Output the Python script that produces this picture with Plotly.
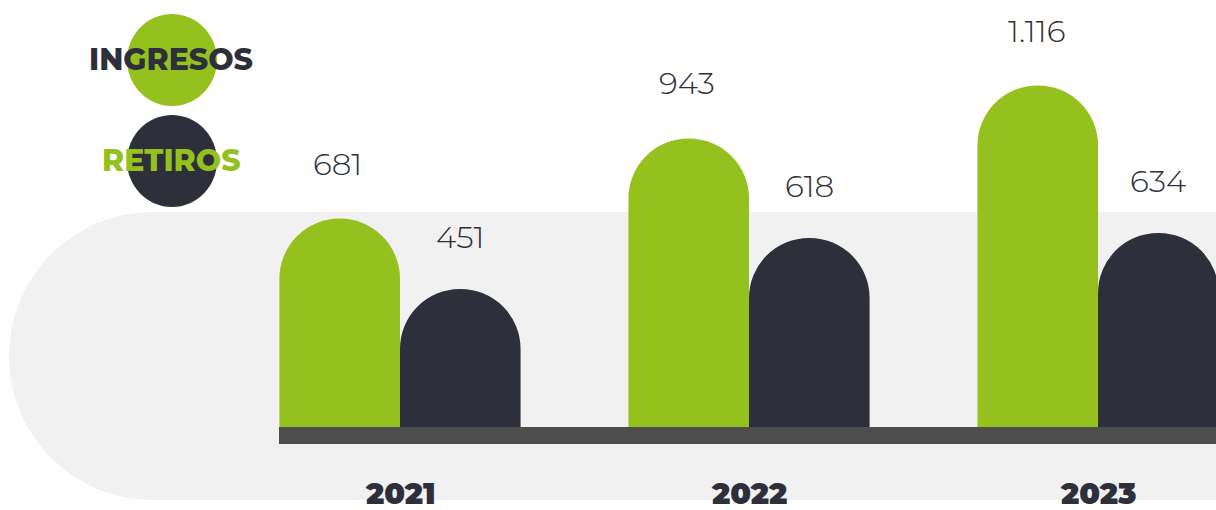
import plotly.graph_objects as go

years = ["2021", "2022", "2023"]
ingresos = [681, 943, 1116]
retiros = [451, 618, 634]
series_names = ["INGRESOS", "RETIROS"]

GREEN = "#95c11f"
DARK = "#2d2f3b"
BG = "#f1f1f1"
BASE = "#4d4d4d"

W, H = 1216, 510
# vertical scale: y value range so that 0 sits at the baseline
YMIN, YMAX = -271.2, 1395.4
XMIN, XMAX = -1.146, 2.338


def px(x):
    return x / W


def py(y):
    return 1 - y / H


def fmt(v):
    return f"{v:,}".replace(",", ".")


fig = go.Figure()
fig.add_trace(go.Bar(x=years, y=ingresos, name=series_names[0],
                     marker=dict(color=GREEN, cornerradius="50%", line=dict(width=0))))
fig.add_trace(go.Bar(x=years, y=retiros, name=series_names[1],
                     marker=dict(color=DARK, cornerradius="50%", line=dict(width=0))))

# background pill with rounded left end
x0, x1, y0, y1 = 9, 1230, 212, 500
r = (y1 - y0) / 2
k = 0.5523 * r
cx = x0 + r
path = (
    f"M {px(x1)},{py(y0)} L {px(cx)},{py(y0)} "
    f"C {px(cx - k)},{py(y0)} {px(x0)},{py(y0 + r - k)} {px(x0)},{py(y0 + r)} "
    f"C {px(x0)},{py(y0 + r + k)} {px(cx - k)},{py(y1)} {px(cx)},{py(y1)} "
    f"L {px(x1)},{py(y1)} Z"
)
shapes = [
    dict(type="path", path=path, xref="paper", yref="paper",
         fillcolor=BG, line=dict(width=0), layer="below"),
    dict(type="rect", xref="paper", yref="paper", x0=px(279), x1=px(1230),
         y0=py(444), y1=py(427), fillcolor=BASE, line=dict(width=0), layer="above"),
    # legend circles
    dict(type="circle", xref="paper", yref="paper", x0=px(127), x1=px(217),
         y0=py(106), y1=py(14), fillcolor=GREEN, line=dict(width=0)),
    dict(type="circle", xref="paper", yref="paper", x0=px(127), x1=px(217),
         y0=py(207), y1=py(115), fillcolor=DARK, line=dict(width=0)),
]

annotations = []
label_font = dict(family="Montserrat, Roboto, sans-serif", size=31, color=DARK, weight=300)
for i, yr in enumerate(years):
    annotations.append(dict(x=i, y=ingresos[i], xref="x", yref="y", text=fmt(ingresos[i]),
                            showarrow=False, xshift=-62, yshift=55, xanchor="center",
                            yanchor="middle", font=label_font))
    annotations.append(dict(x=i, y=retiros[i], xref="x", yref="y", text=fmt(retiros[i]),
                            showarrow=False, xshift=60, yshift=52, xanchor="center",
                            yanchor="middle", font=label_font))
    annotations.append(dict(x=i, y=-218, xref="x", yref="y", text=yr, showarrow=False,
                            xanchor="center", yanchor="middle",
                            font=dict(family="Montserrat, Lato, sans-serif", size=30,
                                      color=DARK, weight=900)))

annotations.append(dict(x=px(171), y=py(59), xref="paper", yref="paper", text=series_names[0],
                        showarrow=False, xanchor="center", yanchor="middle",
                        font=dict(family="Montserrat, Lato, sans-serif", size=30, color=DARK, weight=800)))
annotations.append(dict(x=px(171), y=py(160), xref="paper", yref="paper", text=series_names[1],
                        showarrow=False, xanchor="center", yanchor="middle",
                        font=dict(family="Montserrat, Lato, sans-serif", size=30, color=GREEN, weight=800)))

fig.update_layout(
    width=W, height=H,
    margin=dict(l=0, r=0, t=0, b=0),
    paper_bgcolor="white", plot_bgcolor="rgba(0,0,0,0)",
    barmode="group", bargap=0.309, bargroupgap=0.0,
    showlegend=False,
    shapes=shapes, annotations=annotations,
    xaxis=dict(type="category", range=[XMIN, XMAX], visible=False, fixedrange=True),
    yaxis=dict(range=[YMIN, YMAX], visible=False, fixedrange=True),
)

fig.write_html("out.html", config={"displayModeBar": False},
               post_script="document.body.style.margin='0';document.body.style.overflow='hidden';")
